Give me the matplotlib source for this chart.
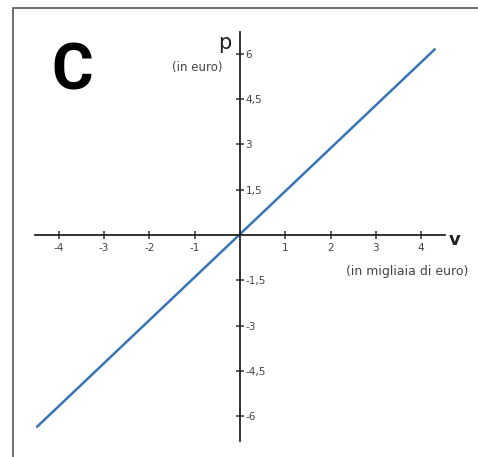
import matplotlib.pyplot as plt
from matplotlib.patches import Rectangle

# Retta p = k*v: estremi del segmento disegnato
v_line = [-4.48, 4.30]
p_line = [-6.35, 6.15]

v_ticks = [-4, -3, -2, -1, 1, 2, 3, 4]
v_tick_labels = ["-4", "-3", "-2", "-1", "1", "2", "3", "4"]
p_ticks = [-6, -4.5, -3, -1.5, 1.5, 3, 4.5, 6]
p_tick_labels = ["-6", "-4,5", "-3", "-1,5", "1,5", "3", "4,5", "6"]

W, H = 478, 457
fig = plt.figure(figsize=(W / 100, H / 100), dpi=100)
ax = fig.add_axes([0, 0, 1, 1])

# scala: origine in (240, 235) px
x0, y0 = 240, 235
sx, sy = 45.3, 30.2
ax.set_xlim(-x0 / sx, (W - x0) / sx)
ax.set_ylim(-(H - y0) / sy, y0 / sy)
ax.patch.set_alpha(0)

for s in ("left", "top"):
    ax.spines[s].set_visible(False)
ax.spines["bottom"].set_position("zero")
ax.spines["right"].set_position("zero")
ax.spines["bottom"].set_bounds(-4.53, 4.53)
ax.spines["right"].set_bounds(-6.82, 6.72)
for s in ("bottom", "right"):
    ax.spines[s].set_linewidth(1.3)
    ax.spines[s].set_color("#222222")

ax.xaxis.set_ticks_position("bottom")
ax.yaxis.set_ticks_position("right")
ax.set_xticks(v_ticks)
ax.set_xticklabels(v_tick_labels)
ax.set_yticks(p_ticks)
ax.set_yticklabels(p_tick_labels)
ax.tick_params(direction="inout", length=6, width=1.1, color="#333333",
               labelsize=7.5, labelcolor="#444444")
ax.tick_params(axis="x", pad=3)
ax.tick_params(axis="y", pad=1)

ax.plot(v_line, p_line, color="#3a74b8", linewidth=1.8, solid_capstyle="round")

# etichette degli assi
ax.text(-0.2, 6.16, "p", fontsize=15, color="#222222", ha="right", va="baseline")
ax.text(-0.38, 5.55, "(in euro)", fontsize=8.5, color="#444444", ha="right", va="center")
ax.text(4.6, -0.33, "v", fontsize=13, fontweight="bold", color="#222222", ha="left", va="baseline")
ax.text(5.05, -1.22, "(in migliaia di euro)", fontsize=9, color="#444444", ha="right", va="center")

fig.text(72 / W, 1 - 72 / H, "C", fontsize=46, fontweight="bold", ha="center", va="center",
         family=["Liberation Sans Narrow", "Roboto", "DejaVu Sans"])

# cornice
fig.patches.append(Rectangle((13 / W, -0.05), 1.2, 1 - 8 / H + 0.05, transform=fig.transFigure,
                             fill=False, edgecolor="#555555", linewidth=1.2))

fig.savefig("out.png", dpi=100)
